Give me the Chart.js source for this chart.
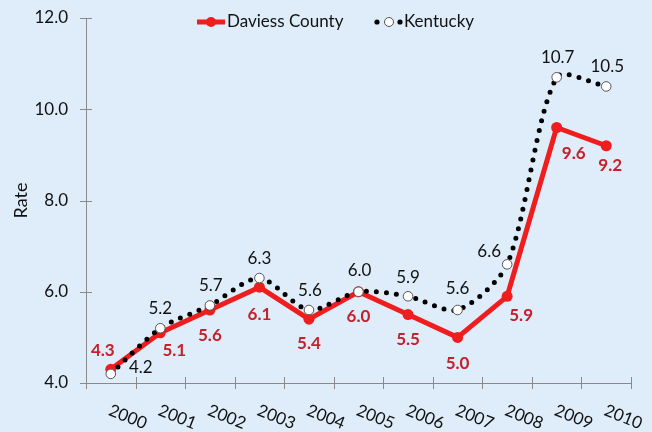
<!DOCTYPE html>
<html><head><meta charset="utf-8">
<script src="https://cdn.jsdelivr.net/npm/chart.js@4.4.0/dist/chart.umd.min.js"></script>
<style>html,body{margin:0;padding:0;background:#DEEDF9;}#wrap{width:652px;height:432px;}</style>
</head><body><div id="wrap"><canvas id="c" width="652" height="432"></canvas></div>
<script>
const years = ['2000','2001','2002','2003','2004','2005','2006','2007','2008','2009','2010'];
const daviess = [4.3, 5.1, 5.6, 6.1, 5.4, 6.0, 5.5, 5.0, 5.9, 9.6, 9.2];
const kentucky = [4.2, 5.2, 5.7, 6.3, 5.6, 6.0, 5.9, 5.6, 6.6, 10.7, 10.5];
const yTicks = [4, 6, 8, 10, 12];
const seriesNames = ['Daviess County', 'Kentucky'];
const axisTitle = 'Rate';

// presentation: label offsets from each point (px)
const daviessLabelOffsets = [[-8,-19],[14,18],[0,26],[0,27],[0,24],[0,25],[0,25],[0,26],[14,19],[17,26],[4,20]];
const kentuckyLabelOffsets = [[30,-6],[0,-20],[1,-20],[0,-20],[1,-19],[1,-21],[0,-19],[0,-21],[-18,-13],[1,-20],[1,-20]];

const FONT = 'Lato, "Open Sans", sans-serif';
const FS = 17;
const RED = '#EF1D1D';
const RED_TEXT = '#C5202B';
const AXIS = '#8a8a8a';
const BG = '#DEEDF9';

const custom = {
  id: 'custom',
  beforeDraw(chart) {
    const ctx = chart.ctx;
    ctx.save();
    ctx.fillStyle = BG;
    ctx.fillRect(0, 0, chart.width, chart.height);
    ctx.restore();
  },
  afterDraw(chart) {
    const ctx = chart.ctx;
    const xs = chart.scales.x, ys = chart.scales.y;
    const ca = chart.chartArea;
    ctx.save();
    ctx.strokeStyle = AXIS; ctx.lineWidth = 1;
    yTicks.forEach(v => {
      const y = Math.round(ys.getPixelForValue(v)) + 0.5;
      ctx.beginPath(); ctx.moveTo(ca.left - 6, y); ctx.lineTo(ca.left + 6, y); ctx.stroke();
    });
    const step = (ca.right - ca.left) / years.length;
    for (let i = 0; i <= years.length; i++) {
      const x = Math.round(ca.left + i * step) + 0.5;
      ctx.beginPath(); ctx.moveTo(x, ca.bottom - 6); ctx.lineTo(x, ca.bottom + 6); ctx.stroke();
    }
    ctx.fillStyle = '#111';
    ctx.font = FS + 'px ' + FONT;
    ctx.textAlign = 'center'; ctx.textBaseline = 'middle';
    years.forEach((lab, i) => {
      const x = xs.getPixelForValue(i) + 17;
      ctx.save(); ctx.translate(x, 417); ctx.rotate(0.38); ctx.fillText(lab, 0, 0); ctx.restore();
    });
    const m0 = chart.getDatasetMeta(0), m1 = chart.getDatasetMeta(1);
    ctx.font = 'bold ' + FS + 'px ' + FONT; ctx.fillStyle = RED_TEXT;
    m0.data.forEach((p, i) => {
      const o = daviessLabelOffsets[i];
      ctx.fillText(daviess[i].toFixed(1), p.x + o[0], p.y + o[1]);
    });
    ctx.font = FS + 'px ' + FONT; ctx.fillStyle = '#111';
    m1.data.forEach((p, i) => {
      const o = kentuckyLabelOffsets[i];
      ctx.fillText(kentucky[i].toFixed(1), p.x + o[0], p.y + o[1]);
    });
    const ly = 22;
    ctx.strokeStyle = RED; ctx.lineWidth = 5;
    ctx.beginPath(); ctx.moveTo(197, ly); ctx.lineTo(225, ly); ctx.stroke();
    ctx.fillStyle = RED; ctx.beginPath(); ctx.arc(211, ly, 5, 0, Math.PI * 2); ctx.fill();
    ctx.fillStyle = '#111'; ctx.textAlign = 'left';
    ctx.fillText(seriesNames[0], 227, ly);
    ctx.fillStyle = '#000';
    [377, 400].forEach(x => { ctx.beginPath(); ctx.arc(x, ly, 2.6, 0, Math.PI * 2); ctx.fill(); });
    ctx.fillStyle = '#fff'; ctx.strokeStyle = '#555'; ctx.lineWidth = 1;
    ctx.beginPath(); ctx.arc(389, ly, 4.5, 0, Math.PI * 2); ctx.fill(); ctx.stroke();
    ctx.fillStyle = '#111';
    ctx.fillText(seriesNames[1], 404, ly);
    ctx.restore();
  }
};

new Chart(document.getElementById('c'), {
  type: 'line',
  data: {
    labels: years,
    datasets: [
      {
        label: seriesNames[0], data: daviess, order: 2,
        borderColor: RED, backgroundColor: RED, borderWidth: 5, tension: 0,
        pointRadius: 5.5, pointBackgroundColor: RED, pointBorderWidth: 0,
        borderJoinStyle: 'round'
      },
      {
        label: seriesNames[1], data: kentucky, order: 1,
        borderColor: '#000', borderWidth: 5, borderDash: [0, 10], borderCapStyle: 'round',
        tension: 0.27,
        pointRadius: 4.8, pointBackgroundColor: '#fff', pointBorderColor: '#555', pointBorderWidth: 1
      }
    ]
  },
  options: {
    responsive: false, animation: false, devicePixelRatio: 1,
    layout: { padding: { top: 18, right: 21, left: 0, bottom: 0 } },
    plugins: { legend: { display: false }, tooltip: { enabled: false } },
    scales: {
      x: {
        type: 'category', offset: true,
        grid: { display: false, drawTicks: false },
        border: { display: true, color: AXIS, width: 1 },
        ticks: { display: false },
        afterFit(s) { s.height = 49; s.paddingLeft = 0; s.paddingRight = 0; }
      },
      y: {
        min: 4, max: 12,
        grid: { display: false, drawTicks: false },
        border: { display: true, color: AXIS, width: 1 },
        ticks: { padding: 18, color: '#111', font: { family: FONT, size: FS }, callback: v => Number(v).toFixed(1) },
        afterBuildTicks(s) { s.ticks = yTicks.map(v => ({ value: v })); },
        title: { display: true, text: axisTitle, color: '#111', font: { family: FONT, size: 18 }, padding: { top: 10, bottom: 0 } },
        afterFit(s) { s.width = 86; s.paddingTop = 0; s.paddingBottom = 0; }
      }
    }
  },
  plugins: [custom]
});
</script>
</body></html>
